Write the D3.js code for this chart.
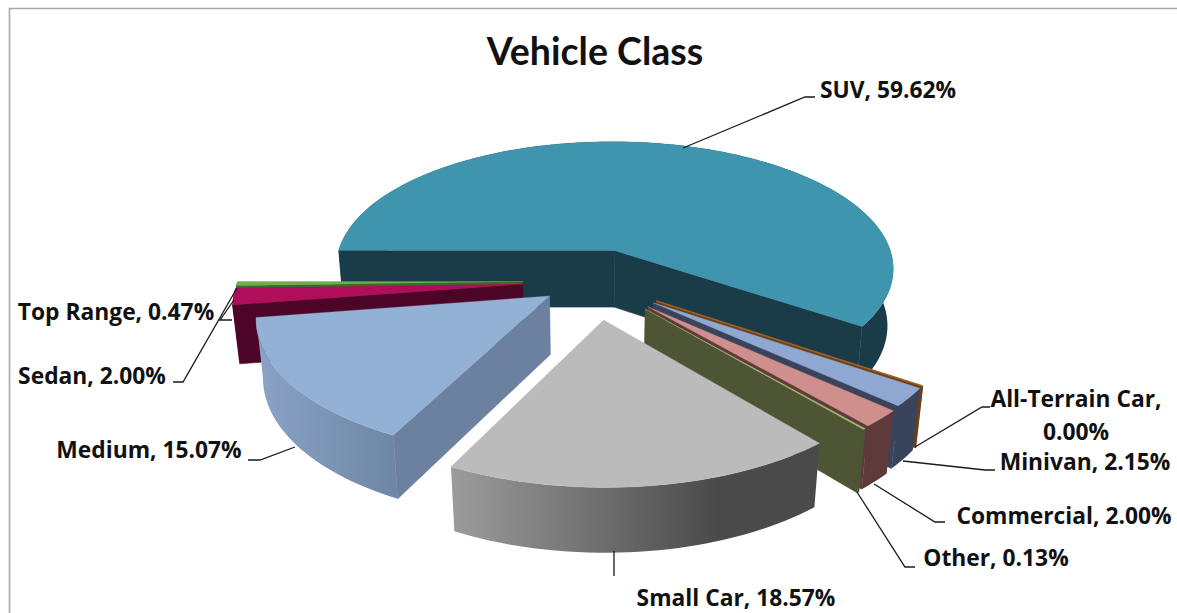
<!DOCTYPE html>
<html><head><meta charset="utf-8">
<script src="https://cdn.jsdelivr.net/npm/d3@7/dist/d3.min.js"></script>
<style>html,body{margin:0;padding:0;background:#fff;overflow:hidden}svg{display:block}</style>
</head><body><svg id="c" width="1177" height="613"></svg>
<script>
// ---- data ----
const categories = ["SUV","All-Terrain Car","Minivan","Commercial","Other","Small Car","Medium","Sedan","Top Range"];
const shares     = [59.62,0.00,2.15,2.00,0.13,18.57,15.07,2.00,0.47];
const chartTitle = "Vehicle Class";
// ---- style: explosion of each slice, as a fraction of the radius ----
const explosion  = [0.25,0.26,0.26,0.265,0.27,0.285,0.19,0.25,0.25];
const topColors  = ["#4095ae","#a0622c","#8fa8d2","#cf8f8d","#a8bf72","#bbbbbb","#93b0d5","#b00d5b","#6bae4a"];
const sideColors = ["#1a3c49","#6e3f18","#39445c","#5f3a3a","#4d5535","#4d4d4d","#6b819f","#4c0526","#3a6a2a"];
const wallLeft   = ["#1a3c49","#6e3f18","#39445c","#5f3a3a","#4d5535","#9c9c9c","#8aa3c6","#4c0526","#3a6a2a"];
const wallRight  = ["#1a3c49","#6e3f18","#39445c","#5f3a3a","#4d5535","#4a4a4a","#6f87a6","#4c0526","#3a6a2a"];
const paintOrder = [0,1,2,3,4,5,8,7,6];
// ---- label layout ----
const labelLines = [["SUV, 59.62%"],["All-Terrain Car,","0.00%"],["Minivan, 2.15%"],["Commercial, 2.00%"],["Other, 0.13%"],["Small Car, 18.57%"],["Medium, 15.07%"],["Sedan, 2.00%"],["Top Range, 0.47%"]];
const labelPos = [[888,98],[1076,407],[1085,470],[1064,524],[996,566],[736,606],[149,458],[92,384],[116,320]];
const leaders = [
 [[683,148],[805,97],[815,97]],
 [[915,447],[982,407],[990,407]],
 [[903,461],[985,470],[995,470]],
 [[874,484],[935,522],[945,522]],
 [[857,492],[905,567],[915,567]],
 [[614,551],[614,576]],
 [[295,447],[260,460],[248,460]],
 [[237,288],[183,382],[173,382]],
 [[234,300],[220,320],[232,320]]
];
// ---- projection ----
const R=285, A=132, T=59, CX=594, CY=281, P=0.14, Q=0.02;
function project(X,Y,Z){
  const k=1/(1-P*Y+Q*Z);
  return [CX+R*X*k, CY+(A*Y+T*Z)*k];
}
const startAngle=-Math.PI/2;
const pie=d3.pie().sort(null).startAngle(startAngle).endAngle(startAngle+2*Math.PI);
const arcs=pie(shares);
const svg=d3.select("#c");
const defs=svg.append("defs");
const line=d3.line();

svg.append("path").attr("d","M9.5,613V8.5H1177").attr("fill","none").attr("stroke","#a9a9a9").attr("stroke-width",1.6);

function slice(i){
  const a=arcs[i], mid=(a.startAngle+a.endAngle)/2, e=explosion[i];
  const ox=e*Math.sin(mid), oy=-e*Math.cos(mid);
  const n=Math.max(2,Math.ceil((a.endAngle-a.startAngle)/0.03));
  const angles=d3.range(n+1).map(j=>a.startAngle+(a.endAngle-a.startAngle)*j/n);
  const rim=z=>angles.map(t=>project(ox+Math.sin(t),oy-Math.cos(t),z));
  const top=rim(0), bot=rim(1);
  const c0=project(ox,oy,0), c1=project(ox,oy,1);
  const g=svg.append("g").attr("class","slice").datum(categories[i]);
  const xs=top.map(p=>p[0]);
  const gid="w"+i;
  const lg=defs.append("linearGradient").attr("id",gid).attr("gradientUnits","userSpaceOnUse")
    .attr("x1",d3.min(xs)).attr("x2",d3.max(xs)+1).attr("y1",0).attr("y2",0);
  lg.append("stop").attr("offset",0).attr("stop-color",wallLeft[i]);
  lg.append("stop").attr("offset",i===5?0.72:1).attr("stop-color",wallRight[i]);
  g.append("path").attr("d",line(top.concat(bot.slice().reverse()))+"Z").attr("fill",`url(#${gid})`)
    .attr("stroke",i===1?sideColors[i]:"none").attr("stroke-width",1.5);
  const area=q=>d3.polygonArea(q);
  const q1=[c0,top[0],bot[0],c1], q2=[c0,c1,bot[n],top[n]];
  [q1,q2].forEach(q=>{ if(area(q)<=1e-6) return;
    g.append("path").attr("d",line(q)+"Z").attr("fill",sideColors[i]).attr("stroke",sideColors[i]).attr("stroke-width",0.6);});
  g.append("path").attr("d",line([c0].concat(top))+"Z").attr("fill",topColors[i])
    .attr("stroke",topColors[i]).attr("stroke-width",i===1?1.5:0.3);
}
paintOrder.forEach(slice);

leaders.forEach(l=>svg.append("path").attr("d",line(l)).attr("fill","none").attr("stroke","#1a1a1a").attr("stroke-width",1.3));

svg.append("text").attr("x",595).attr("y",65).attr("text-anchor","middle")
  .attr("font-family","Lato, sans-serif").attr("font-weight",700).attr("font-size",37.5).attr("fill","#111").text(chartTitle);
labelLines.forEach((ls,i)=>{
  const t=svg.append("text").attr("text-anchor","middle").attr("font-family","'Open Sans', sans-serif").attr("font-weight",700)
    .attr("font-size",22.8).attr("fill","#111");
  ls.forEach((s,j)=>t.append("tspan").attr("x",labelPos[i][0]).attr("y",labelPos[i][1]+j*33).text(s));
});
</script></body></html>
